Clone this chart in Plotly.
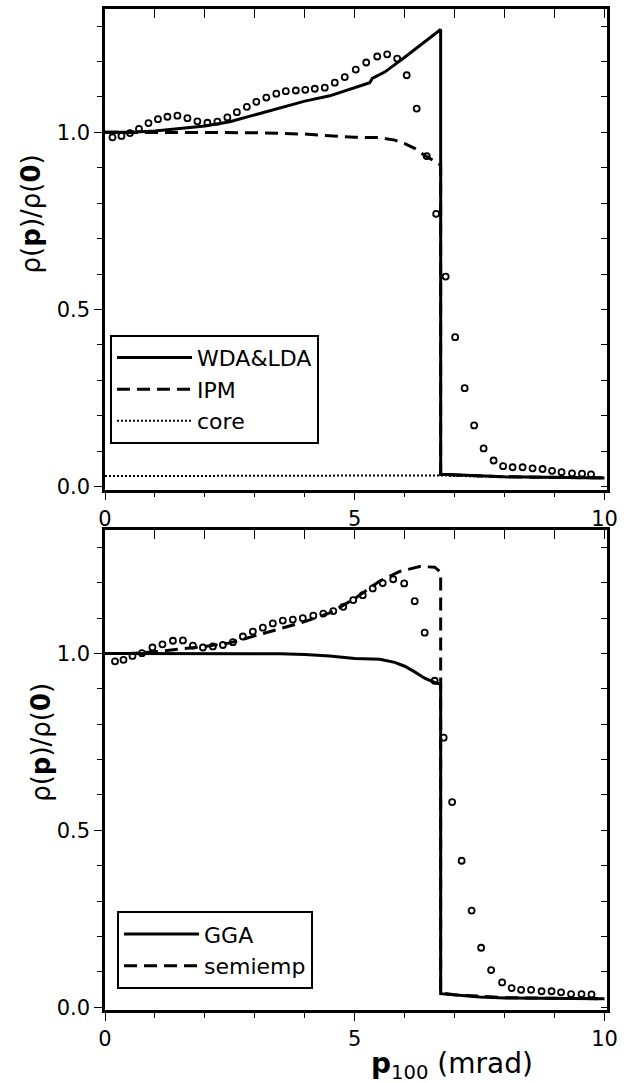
import plotly.graph_objects as go

# ---------------- data: top panel ----------------
exp_top_x = [0.15, 0.33, 0.50, 0.68, 0.87, 1.06, 1.25, 1.45, 1.65, 1.85, 2.05, 2.25, 2.45, 2.64,
             2.84, 3.03, 3.23, 3.43, 3.62, 3.82, 4.01, 4.20, 4.40, 4.60, 4.80, 5.02, 5.23, 5.45,
             5.65, 5.85, 6.04, 6.24, 6.44, 6.63, 6.82, 7.01, 7.20, 7.39, 7.58, 7.78, 7.97, 8.16,
             8.36, 8.56, 8.76, 8.95, 9.14, 9.35, 9.55, 9.73]
exp_top_y = [0.986, 0.990, 0.998, 1.010, 1.026, 1.037, 1.044, 1.047, 1.040, 1.031, 1.027, 1.030,
             1.042, 1.057, 1.072, 1.086, 1.098, 1.109, 1.116, 1.118, 1.120, 1.123, 1.126, 1.140,
             1.156, 1.177, 1.197, 1.214, 1.220, 1.208, 1.161, 1.067, 0.933, 0.770, 0.593, 0.422,
             0.278, 0.173, 0.108, 0.074, 0.058, 0.055, 0.055, 0.052, 0.050, 0.045, 0.041, 0.038,
             0.037, 0.035]

wda_x = [0, 0.5, 1.0, 1.5, 2.0, 2.5, 3.0, 3.5, 4.0, 4.5, 5.0, 5.3, 5.35, 5.6, 6.0, 6.3, 6.5,
         6.72, 6.72, 7.0, 7.5, 8.0, 9.0, 10.0]
wda_y = [1.0, 1.0, 1.004, 1.010, 1.018, 1.030, 1.050, 1.070, 1.088, 1.103, 1.125, 1.140, 1.152,
         1.170, 1.212, 1.245, 1.265, 1.290, 0.035, 0.034, 0.031, 0.028, 0.026, 0.025]

ipm_x = [0, 1, 2, 3, 4, 4.5, 5, 5.5, 5.8, 6.0, 6.2, 6.4, 6.6, 6.72, 6.72, 7, 8, 9, 10]
ipm_y = [1.0, 1.0, 1.0, 0.999, 0.995, 0.990, 0.986, 0.985, 0.978, 0.968, 0.955, 0.935, 0.918,
         0.908, 0.035, 0.033, 0.028, 0.026, 0.025]

core_x = [0, 2, 4, 6, 6.7, 7.5, 8, 9, 10]
core_y = [0.030, 0.030, 0.031, 0.032, 0.032, 0.029, 0.027, 0.026, 0.025]

# ---------------- data: bottom panel ----------------
exp_bot_x = [0.20, 0.37, 0.55, 0.74, 0.95, 1.15, 1.36, 1.56, 1.76, 1.96, 2.16, 2.36, 2.56, 2.76,
             2.96, 3.16, 3.36, 3.56, 3.76, 3.96, 4.17, 4.37, 4.57, 4.77, 4.97, 5.16, 5.36, 5.56,
             5.77, 5.99, 6.20, 6.40, 6.60, 6.78, 6.95, 7.14, 7.34, 7.53, 7.73, 7.95, 8.14, 8.33,
             8.53, 8.74, 8.94, 9.13, 9.33, 9.54, 9.74]
exp_bot_y = [0.978, 0.982, 0.993, 1.001, 1.017, 1.026, 1.036, 1.037, 1.022, 1.017, 1.020, 1.024,
             1.032, 1.048, 1.062, 1.073, 1.085, 1.093, 1.096, 1.100, 1.107, 1.113, 1.120, 1.132,
             1.151, 1.165, 1.184, 1.199, 1.210, 1.198, 1.148, 1.059, 0.923, 0.762, 0.580, 0.414,
             0.273, 0.168, 0.105, 0.070, 0.054, 0.049, 0.049, 0.045, 0.045, 0.042, 0.037, 0.037,
             0.036]

gga_x = [0, 1, 2, 3, 3.5, 4.0, 4.5, 5.0, 5.5, 5.8, 6.0, 6.2, 6.4, 6.6, 6.72, 6.72, 7.0, 7.5,
         8.0, 9.0, 10.0]
gga_y = [1.0, 1.0, 1.0, 1.0, 0.999, 0.997, 0.993, 0.986, 0.984, 0.975, 0.964, 0.948, 0.930,
         0.918, 0.913, 0.038, 0.035, 0.029, 0.026, 0.025, 0.024]

semi_x = [0, 0.5, 1.0, 1.5, 2.0, 2.5, 3.0, 3.5, 4.0, 4.5, 5.0, 5.5, 5.9, 6.3, 6.6, 6.72, 6.72,
          7, 8, 9, 10]
semi_y = [1.0, 1.0, 1.005, 1.012, 1.020, 1.030, 1.050, 1.070, 1.090, 1.115, 1.155, 1.205, 1.232,
          1.246, 1.244, 1.230, 0.040, 0.035, 0.027, 0.025, 0.024]

legend_top = ["WDA&LDA", "IPM", "core"]
legend_bot = ["GGA", "semiemp"]

# ---------------- figure ----------------
FONT = "DejaVu Sans"
XR = [0, 10.05]
YR = [-0.008, 1.348]
DASH = "13px,7px"
top_dom = [0.5199, 1.0]
bot_dom = [0.0, 0.4791]

fig = go.Figure()
marker = dict(symbol="circle-open", size=6, color="black", line=dict(width=1.8, color="black"))

fig.add_trace(go.Scatter(x=exp_top_x, y=exp_top_y, mode="markers", marker=marker,
                         showlegend=False, xaxis="x", yaxis="y"))
fig.add_trace(go.Scatter(x=wda_x, y=wda_y, mode="lines", name=legend_top[0],
                         line=dict(color="black", width=3), xaxis="x", yaxis="y", legend="legend"))
fig.add_trace(go.Scatter(x=ipm_x, y=ipm_y, mode="lines", name=legend_top[1],
                         line=dict(color="black", width=3, dash=DASH), xaxis="x", yaxis="y",
                         legend="legend"))
fig.add_trace(go.Scatter(x=core_x, y=core_y, mode="lines", name=legend_top[2],
                         line=dict(color="black", width=2, dash="2px,2px"), xaxis="x", yaxis="y",
                         legend="legend"))

fig.add_trace(go.Scatter(x=exp_bot_x, y=exp_bot_y, mode="markers", marker=marker,
                         showlegend=False, xaxis="x2", yaxis="y2"))
fig.add_trace(go.Scatter(x=gga_x, y=gga_y, mode="lines", name=legend_bot[0],
                         line=dict(color="black", width=3), xaxis="x2", yaxis="y2",
                         legend="legend2"))
fig.add_trace(go.Scatter(x=semi_x, y=semi_y, mode="lines", name=legend_bot[1],
                         line=dict(color="black", width=3, dash=DASH), xaxis="x2", yaxis="y2",
                         legend="legend2"))

# transparent copies that activate the overlaid axes (inside ticks on top / right)
for xa, ya, xs, ys in [("x3", "y", exp_top_x, exp_top_y), ("x", "y3", exp_top_x, exp_top_y),
                       ("x4", "y2", exp_bot_x, exp_bot_y), ("x2", "y4", exp_bot_x, exp_bot_y)]:
    fig.add_trace(go.Scatter(x=xs, y=ys, xaxis=xa, yaxis=ya, showlegend=False,
                             mode="markers", marker=dict(opacity=0)))

fig.update_layout(
    width=641, height=1083,
    margin=dict(l=105, r=34, t=6, b=73),
    plot_bgcolor="rgba(0,0,0,0)",
    legend=dict(x=0.01, y=0.6746, xanchor="left", yanchor="top", bordercolor="black",
                borderwidth=2, bgcolor="white", itemwidth=75,
                font=dict(family=FONT, size=22, color="black")),
    legend2=dict(x=0.024, y=0.0986, xanchor="left", yanchor="top", bordercolor="black",
                 borderwidth=2, bgcolor="white", itemwidth=75,
                 font=dict(family=FONT, size=22, color="black")),
    annotations=[
        dict(text="ρ(<b>p</b>)/ρ(<b>0</b>)", textangle=-90, xref="paper", yref="paper",
             x=0, y=0.7948, xanchor="center", yanchor="middle", xshift=-74, showarrow=False,
             font=dict(family=FONT, size=26, color="black")),
        dict(text="ρ(<b>p</b>)/ρ(<b>0</b>)", textangle=-90, xref="paper", yref="paper",
             x=0, y=0.2669, xanchor="center", yanchor="middle", xshift=-64, showarrow=False,
             font=dict(family=FONT, size=26, color="black")),
        dict(text="<b>p</b><sub>100</sub> (mrad)", xref="paper", yref="paper",
             x=0.691, y=-0.0558, xanchor="center", yanchor="middle", showarrow=False,
             font=dict(family=FONT, size=28, color="black")),
    ],
)

tickfont = dict(family=FONT, size=21, color="black")
for xname, yname, dom in [("xaxis", "yaxis", top_dom), ("xaxis2", "yaxis2", bot_dom)]:
    fig.layout[xname] = dict(range=XR, domain=[0, 1], anchor="y" if xname == "xaxis" else "y2",
                             dtick=5, ticks="outside", ticklen=8, tickcolor="black",
                             showline=True, linecolor="black", linewidth=2.5, mirror=True,
                             tickfont=tickfont,
                             minor=dict(dtick=1, ticks="outside", ticklen=5))
    fig.layout[yname] = dict(range=YR, domain=dom, anchor="x" if yname == "yaxis" else "x2",
                             dtick=0.5, tickformat=".1f", ticks="outside", ticklen=8,
                             tickcolor="black", showline=True, linecolor="black",
                             linewidth=2.5, mirror=True, tickfont=tickfont,
                             minor=dict(dtick=0.1, ticks="outside", ticklen=5))

for xname, over, anc in [("xaxis3", "x", "y"), ("xaxis4", "x2", "y2")]:
    fig.layout[xname] = dict(range=XR, anchor=anc, overlaying=over, side="top", ticks="inside",
                             ticklen=9, tickcolor="black", dtick=1, showticklabels=False)
for yname, over, anc in [("yaxis3", "y", "x"), ("yaxis4", "y2", "x2")]:
    fig.layout[yname] = dict(range=YR, anchor=anc, overlaying=over, side="right", ticks="inside",
                             ticklen=6, tickcolor="black", dtick=0.1, showticklabels=False)

fig.write_html("out.html")
